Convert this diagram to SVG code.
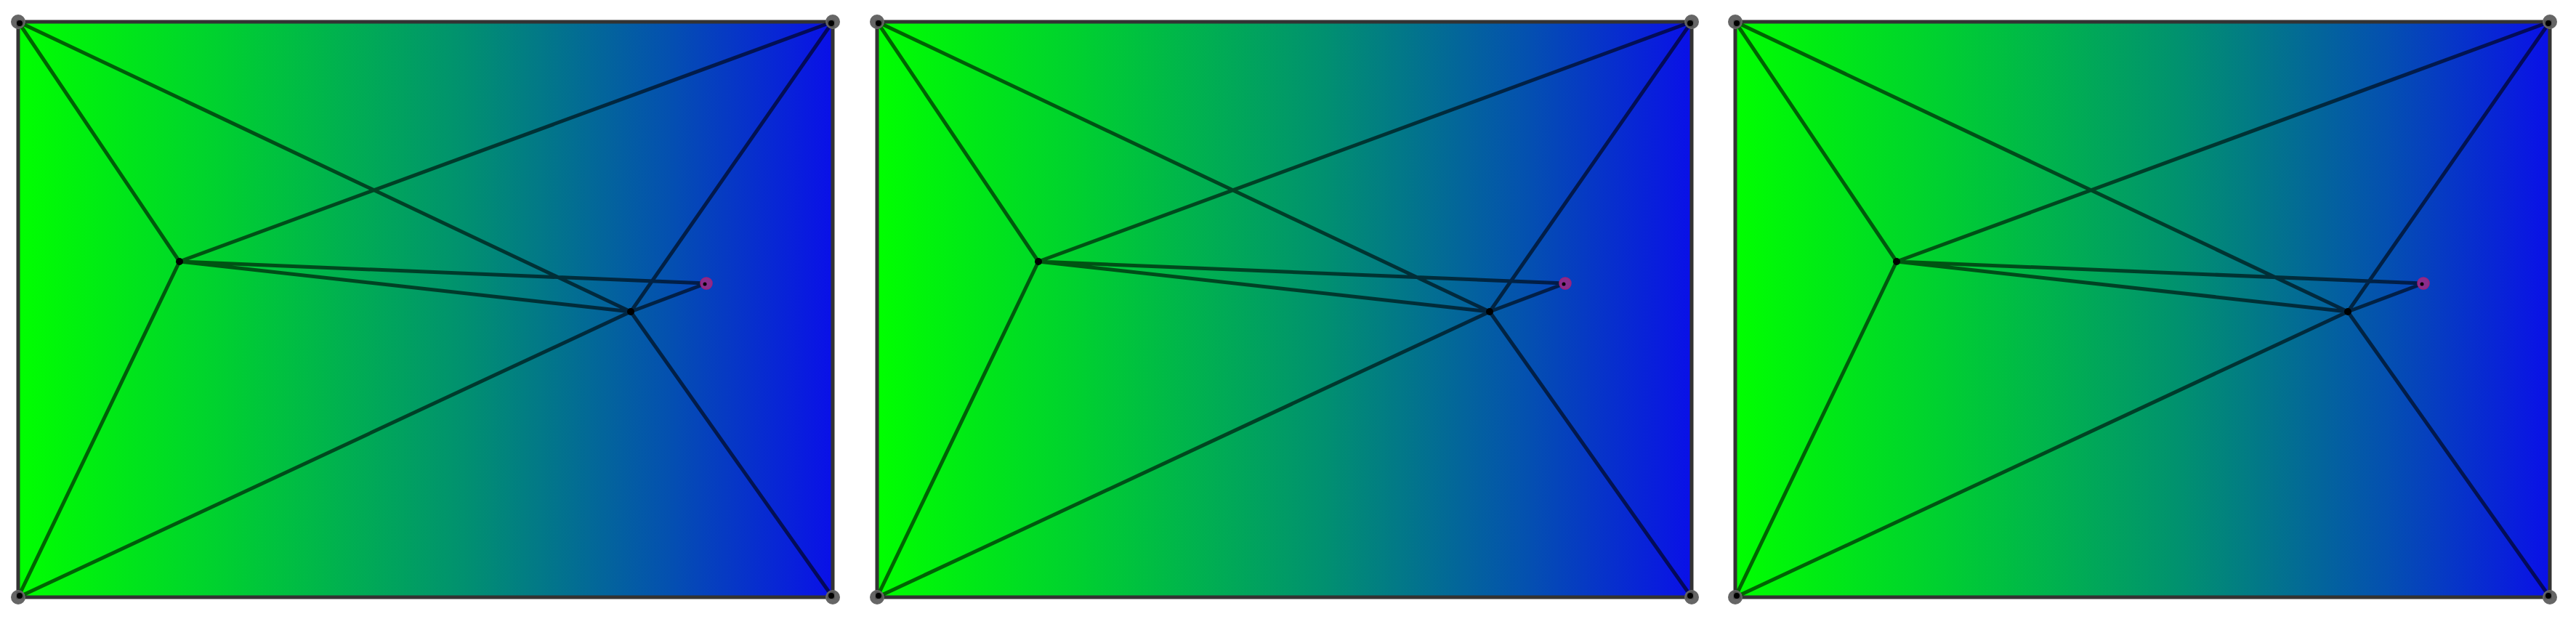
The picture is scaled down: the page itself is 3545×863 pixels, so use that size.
<svg xmlns="http://www.w3.org/2000/svg" width="3545" height="863" viewBox="0 0 3545 863">
<style>
.panel{stroke:#333;stroke-width:5;fill:url(#g)}
.edge{stroke:#000;stroke-opacity:0.6;stroke-width:5;fill:none;stroke-linecap:round}
.corner{fill:#555;fill-opacity:0.9;stroke:#666;stroke-width:2}
.dot{fill:#000}
.red{fill:#8a2d8c;stroke:#a0207a;stroke-width:1.5}
</style>
<defs>
<linearGradient id="g" x1="0" y1="0" x2="1" y2="0">
<stop offset="0" stop-color="#00ff00"/>
<stop offset="0.25" stop-color="#00d030"/>
<stop offset="0.55" stop-color="#019070"/>
<stop offset="0.8" stop-color="#0450b0"/>
<stop offset="1" stop-color="#0a10e8"/>
</linearGradient>
</defs>
<rect width="3545" height="863" fill="#fff"/>
<g id="panels">
<rect class="panel" x="25" y="30" width="1121" height="792"/>
<rect class="panel" x="1207" y="30" width="1121" height="792"/>
<rect class="panel" x="2388" y="30" width="1121" height="792"/>
</g>
<g id="connectors">
<path class="edge" d="M25,30L247,360M25,822L247,360M25,30L868,429M1146,30L247,360M1146,30L868,429M25,822L868,429M1146,822L868,429M247,360L972,390M247,360L868,429M868,429L972,390"/>
<path class="edge" d="M1207,30L1429,360M1207,822L1429,360M1207,30L2050,429M2328,30L1429,360M2328,30L2050,429M1207,822L2050,429M2328,822L2050,429M1429,360L2154,390M1429,360L2050,429M2050,429L2154,390"/>
<path class="edge" d="M2388,30L2610,360M2388,822L2610,360M2388,30L3231,429M3509,30L2610,360M3509,30L3231,429M2388,822L3231,429M3509,822L3231,429M2610,360L3335,390M2610,360L3231,429M3231,429L3335,390"/>
</g>
<g id="p1-tl"><circle class="corner" cx="25" cy="30" r="9"/><circle class="dot" cx="27" cy="32" r="4"/></g>
<g id="p1-tr"><circle class="corner" cx="1146" cy="30" r="9"/><circle class="dot" cx="1144" cy="32" r="4"/></g>
<g id="p1-bl"><circle class="corner" cx="25" cy="822" r="9"/><circle class="dot" cx="27" cy="820" r="4"/></g>
<g id="p1-br"><circle class="corner" cx="1146" cy="822" r="9"/><circle class="dot" cx="1144" cy="820" r="4"/></g>
<g id="p1-a"><circle class="dot" cx="247" cy="360" r="5"/></g>
<g id="p1-b"><circle class="dot" cx="868" cy="429" r="5"/></g>
<g id="p1-c"><circle class="red" cx="972" cy="390" r="8"/><circle class="dot" cx="970" cy="391" r="2.5"/></g>
<g id="p2-tl"><circle class="corner" cx="1207" cy="30" r="9"/><circle class="dot" cx="1209" cy="32" r="4"/></g>
<g id="p2-tr"><circle class="corner" cx="2328" cy="30" r="9"/><circle class="dot" cx="2326" cy="32" r="4"/></g>
<g id="p2-bl"><circle class="corner" cx="1207" cy="822" r="9"/><circle class="dot" cx="1209" cy="820" r="4"/></g>
<g id="p2-br"><circle class="corner" cx="2328" cy="822" r="9"/><circle class="dot" cx="2326" cy="820" r="4"/></g>
<g id="p2-a"><circle class="dot" cx="1429" cy="360" r="5"/></g>
<g id="p2-b"><circle class="dot" cx="2050" cy="429" r="5"/></g>
<g id="p2-c"><circle class="red" cx="2154" cy="390" r="8"/><circle class="dot" cx="2152" cy="391" r="2.5"/></g>
<g id="p3-tl"><circle class="corner" cx="2388" cy="30" r="9"/><circle class="dot" cx="2390" cy="32" r="4"/></g>
<g id="p3-tr"><circle class="corner" cx="3509" cy="30" r="9"/><circle class="dot" cx="3507" cy="32" r="4"/></g>
<g id="p3-bl"><circle class="corner" cx="2388" cy="822" r="9"/><circle class="dot" cx="2390" cy="820" r="4"/></g>
<g id="p3-br"><circle class="corner" cx="3509" cy="822" r="9"/><circle class="dot" cx="3507" cy="820" r="4"/></g>
<g id="p3-a"><circle class="dot" cx="2610" cy="360" r="5"/></g>
<g id="p3-b"><circle class="dot" cx="3231" cy="429" r="5"/></g>
<g id="p3-c"><circle class="red" cx="3335" cy="390" r="8"/><circle class="dot" cx="3333" cy="391" r="2.5"/></g>
</svg>
